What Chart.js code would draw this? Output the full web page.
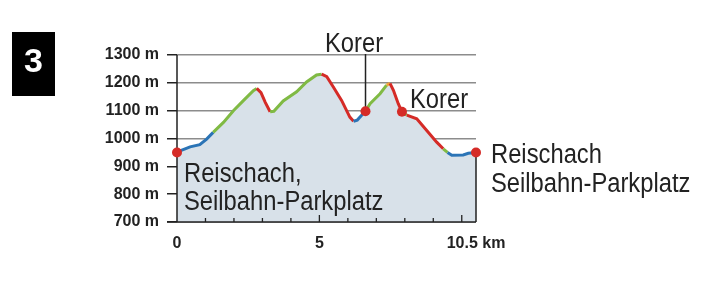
<!DOCTYPE html>
<html>
<head>
<meta charset="utf-8">
<script src="https://cdn.jsdelivr.net/npm/chart.js@4.4.1/dist/chart.umd.min.js"></script>
<style>
html,body{margin:0;padding:0;background:#fff;}
canvas{display:block;}
</style>
</head>
<body>
<canvas id="c" width="712" height="304"></canvas>
<script>
// ---- data ----
const distKm = [0, 0.15, 0.46, 0.8, 1.04, 1.27, 1.63, 1.98, 2.33, 2.68, 2.8, 2.95, 3.1, 3.27, 3.4, 3.73, 4.2, 4.55, 4.9, 5.08, 5.26, 5.49, 5.78, 6.07, 6.2, 6.33, 6.5, 6.62, 6.78, 7.13, 7.36, 7.48, 7.6, 7.77, 7.9, 8.07, 8.42, 8.77, 9.12, 9.35, 9.5, 9.65, 10.05, 10.23, 10.5];
const elevM  = [950, 957, 970, 978, 998, 1022, 1058, 1100, 1136, 1172, 1180, 1165, 1130, 1096, 1098, 1135, 1168, 1203, 1228, 1231, 1222, 1185, 1137, 1077, 1062, 1066, 1085, 1098, 1125, 1161, 1192, 1198, 1173, 1125, 1096, 1084, 1071, 1029, 987, 963, 950, 940, 941, 947, 950];
// colour class of the segment that starts at each point
const segClass = ['b','b','b','b','b','g','g','g','g','g','r','r','r','g','g','g','g','g','g','r','r','r','r','r','b','b','b','g','g','g','o','r','r','r','g','r','r','r','r','g','b','b','b','b','b'];
const markerKm   = [0, 6.62, 7.9, 10.5];
const markerElev = [950, 1098, 1096, 950];
const yTicks = [700, 800, 900, 1000, 1100, 1200, 1300];
const xTickVals = [0, 5, 10.5];
const xTickLabels = ['0', '5', '10.5 km'];
const xMinorTicks = [1, 2, 3, 4, 5, 6, 7, 8, 9, 10];
const startLabel = ['Reischach,', 'Seilbahn-Parkplatz'];
const endLabel = ['Reischach', 'Seilbahn-Parkplatz'];
const peakLabel = 'Korer';
const tourNumber = '3';

const colorMap = { r: '#d52b27', g: '#80ba44', b: '#2b74b6', o: '#f0a53a' };
const SANS = '"Liberation Sans", Arial, sans-serif';

function narrowText(ctx, text, x, y, align) {
  const sx = 0.88;
  ctx.save();
  ctx.font = '27px ' + SANS;
  const w = ctx.measureText(text).width * sx;
  let left = x;
  if (align === 'center') left = x - w / 2;
  ctx.translate(left, y);
  ctx.scale(sx, 1);
  ctx.textAlign = 'left';
  ctx.fillText(text, 0, 0);
  ctx.restore();
}

const overlay = {
  id: 'overlay',
  afterDatasetDraw(chart, args) {
    if (args.index !== 1) return;
    const ctx = chart.ctx, x = chart.scales.x, y = chart.scales.y, a = chart.chartArea;
    ctx.save();
    ctx.strokeStyle = '#222';
    ctx.lineWidth = 1.5;
    ctx.beginPath();
    ctx.moveTo(a.left, a.top); ctx.lineTo(a.left, a.bottom);
    ctx.moveTo(a.left - 10, a.bottom); ctx.lineTo(a.right, a.bottom);
    ctx.stroke();
    ctx.lineWidth = 1.3;
    ctx.beginPath();
    xMinorTicks.forEach(k => {
      const px = x.getPixelForValue(k);
      const len = (k === 5 || k === 10) ? 7 : 4;
      ctx.moveTo(px, a.bottom); ctx.lineTo(px, a.bottom - len);
    });
    ctx.stroke();
    ctx.lineWidth = 1.5;
    ctx.beginPath();
    const ex = x.getPixelForValue(markerKm[3]);
    ctx.moveTo(ex, y.getPixelForValue(markerElev[3])); ctx.lineTo(ex, a.bottom);
    const kx = x.getPixelForValue(markerKm[1]);
    ctx.moveTo(kx, 54); ctx.lineTo(kx, y.getPixelForValue(markerElev[1]));
    ctx.stroke();
    ctx.restore();
  },
  afterDraw(chart) {
    const ctx = chart.ctx;
    ctx.save();
    ctx.fillStyle = '#222';
    ctx.textBaseline = 'alphabetic';
    narrowText(ctx, startLabel[0], 184, 182);
    narrowText(ctx, startLabel[1], 184, 210);
    narrowText(ctx, endLabel[0], 491, 163);
    narrowText(ctx, endLabel[1], 491, 192);
    narrowText(ctx, peakLabel, 410, 108);
    narrowText(ctx, peakLabel, 354, 52, 'center');
    ctx.fillStyle = '#000';
    ctx.fillRect(12, 32, 43, 64);
    ctx.fillStyle = '#fff';
    ctx.font = 'bold 34px ' + SANS;
    ctx.textAlign = 'center';
    ctx.fillText(tourNumber, 33.5, 72);
    ctx.restore();
  }
};

const profilePts = distKm.map((k, i) => ({ x: k, y: elevM[i] }));

new Chart(document.getElementById('c'), {
  type: 'line',
  data: {
    datasets: [
      {
        type: 'scatter',
        order: 0,
        data: markerKm.map((k, i) => ({ x: k, y: markerElev[i] })),
        pointRadius: 5,
        pointBackgroundColor: '#d52b27',
        pointBorderWidth: 0,
        showLine: false,
        clip: false
      },
      {
        order: 1,
        data: profilePts,
        borderWidth: 3,
        borderColor: colorMap.b,
        fill: false,
        pointRadius: 0,
        tension: 0,
        segment: { borderColor: c => colorMap[segClass[c.p0DataIndex]] }
      },
      {
        order: 2,
        data: profilePts,
        borderWidth: 0,
        backgroundColor: '#d8e1e9',
        fill: 'start',
        pointRadius: 0,
        tension: 0
      }
    ]
  },
  options: {
    responsive: false,
    animation: false,
    events: [],
    layout: { padding: { left: 0, right: 236, top: 55, bottom: 0 } },
    plugins: { legend: { display: false }, tooltip: { enabled: false } },
    scales: {
      x: {
        type: 'linear', min: 0, max: 10.5,
        afterBuildTicks: s => { s.ticks = xTickVals.map(v => ({ value: v })); },
        afterFit: s => { s.height = 304 - 222; },
        grid: { display: false, drawTicks: false },
        border: { display: false },
        ticks: {
          autoSkip: false, maxRotation: 0, padding: 12,
          color: '#222', font: { family: SANS, size: 16, weight: 'bold' },
          callback: (v, i) => xTickLabels[i]
        }
      },
      y: {
        min: 700, max: 1300,
        afterBuildTicks: s => { s.ticks = yTicks.map(v => ({ value: v })); },
        afterFit: s => { s.width = 177; },
        grid: { color: '#8c8c8c', lineWidth: 1.5, tickColor: '#222', tickLength: 10, drawTicks: true },
        border: { display: false },
        ticks: {
          padding: 8, color: '#222', font: { family: SANS, size: 16, weight: 'bold' },
          callback: v => v + ' m'
        }
      }
    }
  },
  plugins: [overlay]
});
</script>
</body>
</html>
